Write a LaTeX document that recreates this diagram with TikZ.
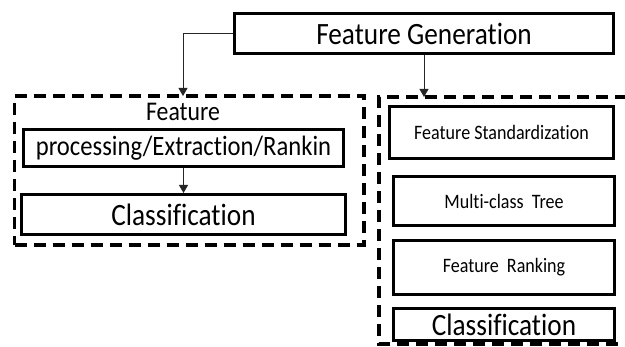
\documentclass[tikz,border=0pt]{standalone}
\usepackage{fontspec}
\newfontfamily\cf[FakeStretch=0.88,Ligatures={NoCommon}]{Carlito}
\usetikzlibrary{arrows.meta}
\begin{document}
\begin{tikzpicture}[x=1pt,y=-1pt,
  box/.style={draw, line width=3pt, inner sep=0pt, align=center},
  dbox/.style={draw, line width=3.2pt, dash pattern=on 12pt off 7pt},
  arr/.style={-{Triangle[length=8pt,width=9pt]}, line width=0.9pt, draw=black!85},
  big/.style={font=\cf\fontsize{31}{31}\selectfont},
  mid/.style={font=\cf\fontsize{28}{28}\selectfont},
  small/.style={font=\cf\fontsize{20.5}{20.5}\selectfont}]
\useasboundingbox (0,0) rectangle (625,347);
% top box
\node[box, big, minimum width=379pt, minimum height=40pt] (fg) at (424,33.5) {Feature Generation};
% left group
\node[dbox, minimum width=349.5pt, minimum height=149pt, inner sep=0pt] (ldash) at (189.25,170.5) {};
\node[font=\cf\fontsize{27}{27}\selectfont, inner sep=0pt] (feat) at (183,112) {Feature};
\node[box, mid, minimum width=320pt, minimum height=37pt] (proc) at (183.5,148) {processing/Extraction/Rankin};
\node[box, big, minimum width=324pt, minimum height=40pt] (cls1) at (183.5,214.5) {Classification};
\coordinate (lt) at (183,96);
% right group
\coordinate (rtl) at (379,97);
\coordinate (rbl) at (379,344);
\coordinate (rtr) at (627,97);
\coordinate (rbr) at (627,344);
\draw[line width=3.2pt, dash pattern=on 12pt off 7pt] (rtr) -- (rtl) -- (rbl) -- (rbr);
\node[box, small, minimum width=224pt, minimum height=52pt] (fs) at (501.5,132.5) {Feature Standardization};
\node[box, small, minimum width=221pt, minimum height=49pt] (mt) at (504,201) {Multi-class~~Tree};
\node[box, small, minimum width=221pt, minimum height=54pt] (fr) at (504,267.5) {Feature~~Ranking};
\node[box, big, minimum width=221pt, minimum height=32pt] (cls2) at (504,324.5) {Classification};
\coordinate (rt) at (424,97);
% connectors
\draw[arr] (fg.west) -| (lt);
\draw[arr] (fg.south) -- (rt);
\draw[arr] (proc.south) -- (cls1.north);
\end{tikzpicture}
\end{document}
